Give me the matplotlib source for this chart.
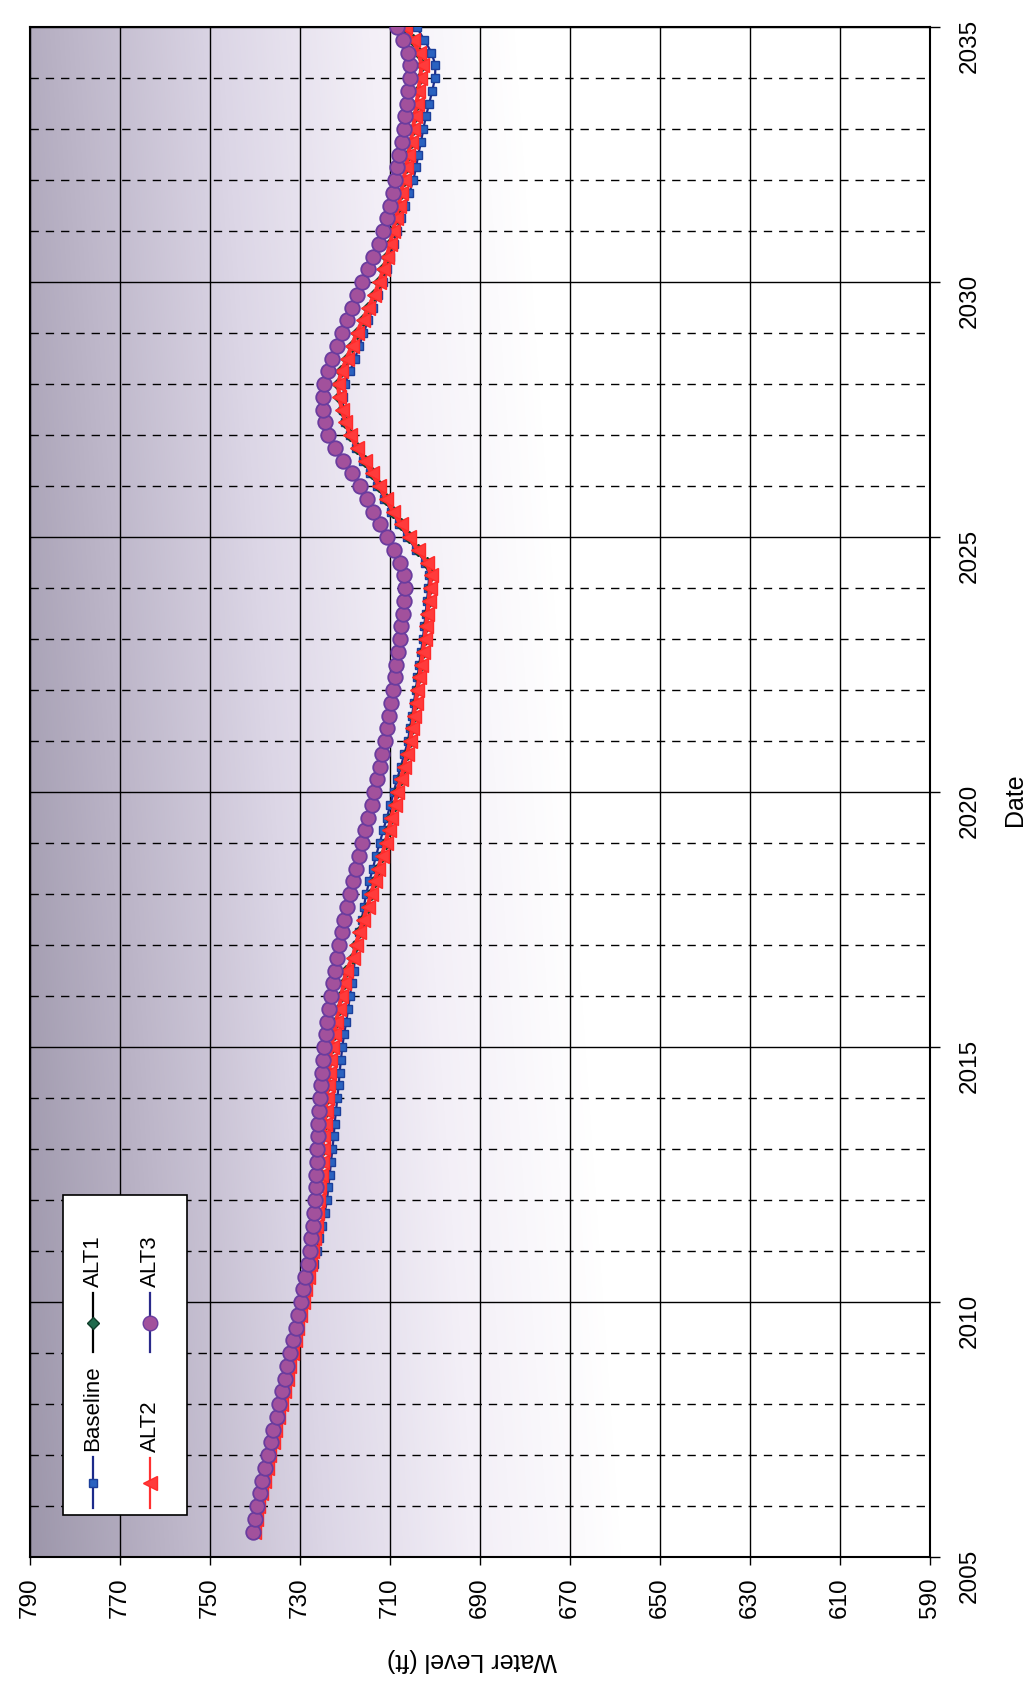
import matplotlib.pyplot as plt
import numpy as np
from matplotlib.colors import LinearSegmentedColormap
from matplotlib.lines import Line2D
from matplotlib.patches import Rectangle

plt.rcParams['font.family'] = ['Liberation Sans', 'DejaVu Sans']

# quarterly values, 2005.50 .. 2035.00 (one row per year)
baseline = [740.3, 739.9,
            739.4, 738.8, 738.1, 737.5,
            736.9, 736.2, 735.5, 734.9,
            734.2, 733.6, 733.0, 732.3,
            731.7, 731.1, 730.5, 729.8,
            729.2, 728.5, 727.7, 727.0,
            726.3, 725.7, 725.1, 724.5,
            724.0, 723.7, 723.4, 723.1,
            722.8, 722.5, 722.3, 722.0,
            721.7, 721.4, 721.2, 720.9,
            720.6, 720.2, 719.7, 719.3,
            718.9, 718.5, 718.1, 717.7,
            717.3, 716.8, 716.3, 715.8,
            715.3, 714.6, 713.8, 713.1,
            712.3, 711.5, 710.7, 709.9,
            709.2, 708.4, 707.6, 706.8,
            706.0, 705.6, 705.1, 704.7,
            704.3, 703.9, 703.5, 703.1,
            702.7, 702.4, 702.1, 701.8,
            701.5, 701.3, 702.2, 704.2,
            706.2, 708.0, 709.7, 711.3,
            712.8, 714.4, 716.0, 717.6,
            719.0, 719.9, 720.4, 720.5,
            720.0, 718.9, 717.8, 716.8,
            715.9, 714.8, 713.7, 712.6,
            711.5, 710.7, 709.9, 709.2,
            708.5, 707.5, 706.6, 705.7,
            704.8, 704.2, 703.7, 703.1,
            702.6, 702.0, 701.3, 700.6,
            700.0, 699.9, 700.8, 702.4,
            704.1]

alt2 = [740.2, 739.8,
        739.3, 738.7, 738.0, 737.4,
        736.8, 736.1, 735.5, 734.8,
        734.2, 733.6, 733.0, 732.4,
        731.8, 731.2, 730.6, 730.0,
        729.4, 728.8, 728.3, 727.8,
        727.3, 726.9, 726.5, 726.2,
        725.9, 725.7, 725.4, 725.2,
        725.0, 724.8, 724.5, 724.3,
        724.1, 723.8, 723.5, 723.3,
        723.0, 722.5, 721.9, 721.4,
        720.8, 720.3, 719.7, 718.3,
        717.6, 716.8, 715.9, 715.0,
        714.2, 713.4, 712.6, 711.8,
        711.0, 710.3, 709.7, 709.0,
        708.4, 707.6, 706.9, 706.2,
        705.5, 705.1, 704.7, 704.3,
        703.9, 703.5, 703.1, 702.7,
        702.3, 702.0, 701.7, 701.4,
        701.1, 700.9, 701.8, 703.8,
        705.8, 707.6, 709.3, 710.9,
        712.4, 714.0, 715.6, 717.3,
        718.9, 719.9, 720.7, 721.3,
        721.5, 720.8, 719.6, 718.5,
        717.4, 716.1, 714.8, 713.5,
        712.4, 711.5, 710.7, 710.0,
        709.3, 708.7, 708.1, 707.5,
        707.0, 706.5, 705.9, 705.4,
        704.9, 704.5, 704.1, 703.7,
        703.3, 703.0, 703.6, 705.0,
        706.6]

# ALT1 sits under ALT2 in the chart
alt1 = list(alt2)

alt3 = [740.5, 740.1,
        739.6, 739.0, 738.4, 737.8,
        737.2, 736.5, 735.9, 735.2,
        734.6, 734.0, 733.4, 732.8,
        732.2, 731.6, 731.0, 730.4,
        729.8, 729.3, 728.8, 728.3,
        727.8, 727.5, 727.1, 726.8,
        726.6, 726.5, 726.4, 726.3,
        726.2, 726.0, 725.9, 725.7,
        725.6, 725.4, 725.1, 724.9,
        724.6, 724.3, 723.9, 723.6,
        723.2, 722.7, 722.3, 721.8,
        721.3, 720.7, 720.2, 719.6,
        719.0, 718.3, 717.6, 716.9,
        716.2, 715.5, 714.8, 714.1,
        713.5, 712.9, 712.3, 711.7,
        711.1, 710.7, 710.2, 709.8,
        709.4, 709.0, 708.6, 708.2,
        707.8, 707.5, 707.2, 706.9,
        706.7, 706.8, 707.8, 709.2,
        710.7, 712.2, 713.7, 715.2,
        716.7, 718.5, 720.4, 722.2,
        723.7, 724.5, 724.9, 725.0,
        724.6, 723.8, 722.8, 721.8,
        720.7, 719.6, 718.5, 717.4,
        716.3, 715.0, 713.7, 712.5,
        711.5, 710.7, 710.0, 709.4,
        708.9, 708.4, 707.9, 707.4,
        707.0, 706.6, 706.2, 705.9,
        705.6, 705.5, 706.1, 707.1,
        708.4]

dates = 2005.5 + 0.25 * np.arange(len(alt3))
level_ticks = list(range(590, 791, 20))
year_ticks = [2005, 2010, 2015, 2020, 2025, 2030, 2035]
labels = ['Baseline', 'ALT1', 'ALT2', 'ALT3']

W, H = 1034, 1684
fig = plt.figure(figsize=(W / 100, H / 100), dpi=100)

def fx(x):
    return x / W

def fy(y):
    return 1 - y / H

# the page is printed sideways: level runs left->right (inverted), date runs up
ax = fig.add_axes([fx(30), fy(1557), 900 / W, 1530 / H])

# grey-lilac shading fading to white
cmap = LinearSegmentedColormap.from_list('bg', ['#9d97ab', '#bdb6c9', '#dcd6e6', '#f3eff7', '#ffffff'])
gx, gy = np.meshgrid(np.linspace(0, 1, 300), np.linspace(0, 1, 300))
shade = np.clip(gx / 0.66 + 0.18 * gy, 0, 1)
ax.imshow(shade, extent=[790, 590, 2005, 2035], origin='lower', cmap=cmap,
          aspect='auto', zorder=0, interpolation='bilinear')

st_base = dict(color='#1c2a8a', marker='s', ms=6, mfc='#2a62c0', mec='#1b3f9a')
st_alt1 = dict(color='k', marker='D', ms=6.5, mfc='#1f6b4d', mec='#0f3d2a')
st_alt2 = dict(color='#ff3030', marker='<', ms=10.5, mfc='#ff3b3b', mec='#ff2a2a')
st_alt3 = dict(color='#2a2a8a', marker='o', ms=10.5, mfc='#a2519c', mec='#6a3c9e')

ax.plot(baseline, dates, lw=1.6, zorder=3, **st_base)
ax.plot(alt1, dates, lw=1.6, zorder=3, **st_alt1)
ax.plot(alt2, dates, lw=3, zorder=4, **st_alt2)
ax.plot(alt3, dates, lw=1.6, mew=1.3, zorder=5, **st_alt3)

ax.set_xlim(790, 590)
ax.set_ylim(2005, 2035)
ax.set_xticks(level_ticks)
ax.set_yticks(year_ticks)
ax.set_yticks(range(2005, 2036), minor=True)
ax.yaxis.tick_right()
ax.grid(which='major', color='k', lw=1.0, ls='-', zorder=1)
ax.grid(which='minor', axis='y', color='k', lw=1.0, dashes=(6, 5), zorder=1)
ax.set_axisbelow(True)
ax.tick_params(axis='x', which='major', length=6, width=1, direction='out',
               labelrotation=90, labelsize=17.5, pad=9)
ax.tick_params(axis='y', which='major', length=7, width=1, direction='out',
               labelrotation=90, labelsize=17.5, pad=14, right=True, left=False)
ax.tick_params(axis='y', which='minor', length=0)
for s in ax.spines.values():
    s.set_linewidth(1.5)

fig.text(fx(472), fy(1660), 'Water Level (ft)', rotation=180, fontsize=18,
         ha='center', va='center')
fig.text(fx(1015), fy(800), 'Date', rotation=90, fontsize=18,
         ha='center', va='center')

# legend, drawn sideways by hand
fig.add_artist(Rectangle((fx(63), fy(1515)), (187 - 63) / W, (1515 - 1195) / H,
                         transform=fig.transFigure, facecolor='white',
                         edgecolor='k', lw=1.2, zorder=6))
leg_style = [st_base, st_alt1, st_alt2, st_alt3]
leg_pos = [(93, 1508, 1457), (93, 1352, 1293), (150, 1508, 1458), (150, 1352, 1293)]
for lab, st, (x, y0, y1) in zip(labels, leg_style, leg_pos):
    ym = (y0 + y1) / 2
    fig.add_artist(Line2D([fx(x)] * 3, [fy(y0), fy(ym), fy(y1)], lw=1.6,
                          markevery=[1], transform=fig.transFigure, zorder=7, **st))
    fig.text(fx(x), fy(y1 - 6), lab, rotation=90, rotation_mode='anchor',
             ha='left', va='center', fontsize=16, zorder=8)

fig.savefig('out.png', dpi=100)
